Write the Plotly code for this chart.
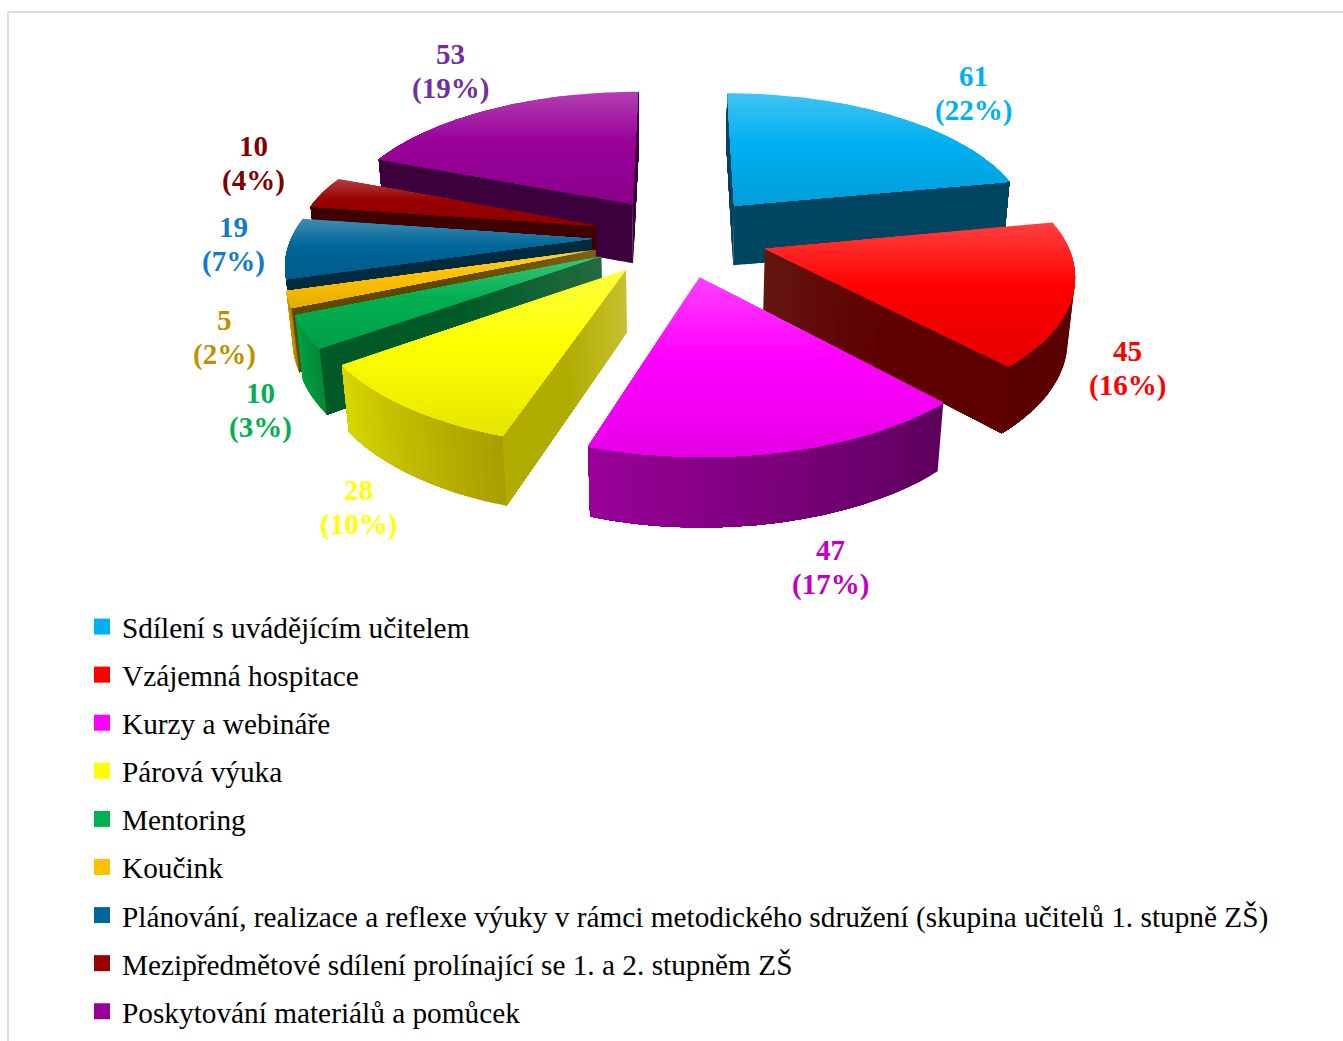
import numpy as np
import plotly.graph_objects as go

categories = [
    "Sdílení s uvádějícím učitelem",
    "Vzájemná hospitace",
    "Kurzy a webináře",
    "Párová výuka",
    "Mentoring",
    "Koučink",
    "Plánování, realizace a reflexe výuky v rámci metodického sdružení (skupina učitelů 1. stupně ZŠ)",
    "Mezipředmětové sdílení prolínající se 1. a 2. stupněm ZŠ",
    "Poskytování materiálů a pomůcek",
]
values = [61, 45, 47, 28, 10, 5, 19, 10, 53]
percents = ["22%", "16%", "17%", "10%", "3%", "2%", "7%", "4%", "19%"]

# colours of each slice
top_colors = ["#00B0F0", "#FF0000", "#FF00FF", "#FFFF00", "#00B050", "#FFC000", "#006699", "#990000", "#990099"]
label_colors = ["#00B0F0", "#FF0000", "#C000C0", "#FFFF00", "#00B050", "#BF8F00", "#0F7CC8", "#800000", "#7030A0"]
wall_start = ["#004561", "#5A0000", "#5C005C", "#A89E00", "#008A38", "#A87E00", "#003A50", "#400000", "#3C003C"]
wall_end = ["#004561", "#5A0000", "#990099", "#D8D800", "#00A040", "#D09C00", "#003A50", "#400000", "#3C003C"]
cut_apex = ["#004561", "#651510", "#5C005C", "#C8C030", "#226B3F", "#7A6010", "#002A40", "#400000", "#3C003C"]
cut_outer = ["#004561", "#5E0000", "#5C005C", "#B0AC00", "#005A28", "#604800", "#002A40", "#400000", "#3C003C"]

# where the two text lines of each label are centred, in pixels
label_x = [973, 1127, 830, 358, 260, 224, 233, 253, 450]
label_y = [93, 368, 567, 507, 410, 337, 244, 163, 71]

# camera and pie shape
CX, CY = 680, 236
TILT = np.radians(27.4)
DIST = 1750
RADIUS = 300
EXPLODE = 88
HEIGHT = 70


def project(x, y, z):
    w = DIST / (DIST + y * np.cos(TILT) - z * np.sin(TILT))
    return CX + x * w, CY - (y * np.sin(TILT) + z * np.cos(TILT)) * w


def to_rgb(c):
    return np.array([int(c[i:i + 2], 16) for i in (1, 3, 5)], dtype=float)


def mix(c1, c2, t):
    r, g, b = to_rgb(c1) * (1 - t) + to_rgb(c2) * t
    return f"rgb({r:.0f},{g:.0f},{b:.0f})"


def top_shade(color, t):
    # light at the back edge, pure colour in the middle, a bit darker in front
    base = to_rgb(color)
    if t < 0.45:
        c = base + (255 - base) * 0.25 * (1 - t / 0.45)
    else:
        c = base * (1 - 0.1 * (t - 0.45) / 0.55)
    return f"rgb({c[0]:.0f},{c[1]:.0f},{c[2]:.0f})"


def clip_below(pts, level):
    # keep the part of a convex polygon below a screen height
    out = []
    for i in range(len(pts)):
        a, b = pts[i], pts[(i + 1) % len(pts)]
        if a[1] >= level:
            out.append(a)
        if (a[1] >= level) != (b[1] >= level):
            t = (level - a[1]) / (b[1] - a[1])
            out.append((a[0] + (b[0] - a[0]) * t, level))
    return out


fig = go.Figure()


def add_poly(pts, color, group):
    xs = [p[0] for p in pts] + [pts[0][0]]
    ys = [p[1] for p in pts] + [pts[0][1]]
    fig.add_trace(go.Scatter(x=xs, y=ys, mode="none", fill="toself", fillcolor=color,
                             hoverinfo="skip", showlegend=False, legendgroup=group))


# legend entries come first so they keep the category order
for name, color in zip(categories, top_colors):
    fig.add_trace(go.Scatter(x=[None], y=[None], mode="markers", name=name, legendgroup=name,
                             marker=dict(symbol="square", size=16, color=color)))

edges = np.cumsum([0] + values) / sum(values) * 2 * np.pi
mids = (edges[:-1] + edges[1:]) / 2
camera = np.array([0, -DIST * np.cos(TILT), DIST * np.sin(TILT)])

# back slices first; every gradient step is painted over the rest of its face so no seams show
for i in np.argsort(-np.cos(mids)):
    a0, a1, mid = edges[i], edges[i + 1], mids[i]
    ox, oy = EXPLODE * np.sin(mid), EXPLODE * np.cos(mid)
    group = categories[i]
    angles = np.linspace(a0, a1, max(6, int((a1 - a0) / 0.03)))
    rim = [(ox + RADIUS * np.sin(t), oy + RADIUS * np.cos(t)) for t in angles]

    # cut faces, apex to rim
    for edge_a, side in ((a0, -1), (a1, 1)):
        nrm = np.array([np.sin(edge_a + side * np.pi / 2), np.cos(edge_a + side * np.pi / 2), 0])
        if nrm @ (camera - np.array([ox, oy, 0])) <= 0:
            continue
        outer = (ox + RADIUS * np.sin(edge_a), oy + RADIUS * np.cos(edge_a))
        for k in range(24):
            t0 = k / 24
            p0 = (ox + RADIUS * t0 * np.sin(edge_a), oy + RADIUS * t0 * np.cos(edge_a))
            quad = [project(*p0, 0), project(*outer, 0), project(*outer, -HEIGHT), project(*p0, -HEIGHT)]
            add_poly(quad, mix(cut_apex[i], cut_outer[i], min(1, t0 * 2)), group)

    # outer wall
    visible = []
    for k in range(len(angles) - 1):
        t = (angles[k] + angles[k + 1]) / 2
        nrm = np.array([np.sin(t), np.cos(t), 0])
        p = np.array([ox + RADIUS * nrm[0], oy + RADIUS * nrm[1], 0])
        if nrm @ (camera - p) > 0:
            visible.append(k)
    for k in visible:
        part = rim[k:visible[-1] + 2]
        poly = [project(*p, 0) for p in part] + [project(*p, -HEIGHT) for p in part[::-1]]
        t = (angles[k] + angles[k + 1]) / 2
        add_poly(poly, mix(wall_start[i], wall_end[i], (t - a0) / (a1 - a0)), group)

    # top face, painted from the back edge forward for the gradient
    top = [project(ox, oy, 0)] + [project(*p, 0) for p in rim]
    ymin, ymax = min(p[1] for p in top), max(p[1] for p in top)
    n_bands = 30
    for k in range(n_bands):
        band = clip_below(top, ymin + (ymax - ymin) * k / n_bands)
        if len(band) >= 3:
            add_poly(band, top_shade(top_colors[i], (k + 0.5) / n_bands), group)

# data labels
for i in range(len(values)):
    fig.add_annotation(x=label_x[i], y=label_y[i] - 17, text=f"<b>{values[i]}</b>", showarrow=False,
                       font=dict(family="Liberation Serif", size=29, color=label_colors[i]))
    fig.add_annotation(x=label_x[i], y=label_y[i] + 17, text=f"<b>({percents[i]})</b>", showarrow=False,
                       font=dict(family="Liberation Serif", size=29, color=label_colors[i]))

# thin frame of the original picture
fig.add_shape(type="line", x0=8, x1=1343, y0=12, y1=12, line=dict(color="#D9DBED", width=2), layer="below")
fig.add_shape(type="line", x0=8, x1=8, y0=12, y1=1041, line=dict(color="#D9DBED", width=2), layer="below")

fig.update_layout(
    width=1343,
    height=1041,
    margin=dict(l=0, r=0, t=0, b=0),
    paper_bgcolor="white",
    plot_bgcolor="white",
    xaxis=dict(range=[0, 1343], visible=False, fixedrange=True),
    yaxis=dict(range=[1041, 0], visible=False, fixedrange=True),
    showlegend=True,
    legend=dict(x=82 / 1343, y=1 - 601 / 1041, xanchor="left", yanchor="top", tracegroupgap=7,
                font=dict(family="Liberation Serif", size=29.3, color="black"),
                bgcolor="rgba(0,0,0,0)", itemsizing="trace"),
)

fig.write_html("out.html", config={"displayModeBar": False}, post_script="document.body.style.margin='0';")
